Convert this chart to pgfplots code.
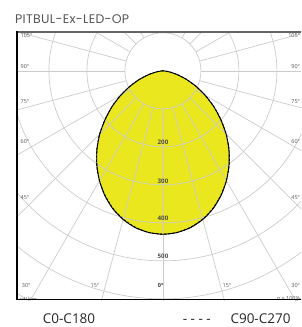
\documentclass[border=0pt]{standalone}
\usepackage{pgfplots}
\pgfplotsset{compat=1.18}
\usepackage{pgfplotstable}
\usepackage{fontspec}
\setmainfont{Open Sans}
\newfontfamily\titlefont[LetterSpace=2.5]{Poppins}
\definecolor{ldcyellow}{RGB}{234,231,30}
\definecolor{gridc}{RGB}{204,204,204}
\definecolor{lbl}{RGB}{85,85,85}
\definecolor{toplinec}{RGB}{100,100,100}

% gamma angle (deg, 0 = straight down) and intensity in cd/klm
\pgfplotstableread{
a    c0   c90
-90  0    0
-85  6    6
-80  20   20
-75  40   41
-70  66   66
-65  95   96
-60  128  128
-55  163  163
-50  198  199
-45  235  236
-40  270  271
-35  303  304
-30  334  334
-25  362  361
-20  386  385
-15  405  404
-10  419  418
-5   427  427
0    430  430
5    427  427
10   419  418
15   405  404
20   386  385
25   362  361
30   334  334
35   303  304
40   270  271
45   235  236
50   198  199
55   163  163
60   128  128
65   95   96
70   66   66
75   40   41
80   20   20
85   6    6
90   0    0
}\ldc

\begin{document}
\begin{tikzpicture}
\path[use as bounding box, clip] (0pt,0pt) rectangle (301pt,327pt);
\begin{axis}[
  at={(17pt,27pt)}, anchor=south west,
  x=0.38pt, y=0.38pt,
  xmin=-384, xmax=384, ymin=-603, ymax=103,
  hide axis, clip=true,
]
\addplot[fill=ldcyellow, draw=none, smooth, tension=0.4]
  table[x expr={\thisrow{c0}*sin(\thisrow{a})}, y expr={-\thisrow{c0}*cos(\thisrow{a})}] {\ldc} -- cycle;
\pgfplotsinvokeforeach{100,200,...,900}{
  \draw[gridc, line width=0.7pt] (axis cs:0,0) circle[radius=#1];
}
\pgfplotsinvokeforeach{0,15,...,345}{
  \draw[gridc, line width=0.7pt] (axis cs:{100*cos(#1)},{100*sin(#1)}) -- (axis cs:{1300*cos(#1)},{1300*sin(#1)});
}
\addplot[black, line width=0.9pt, smooth, tension=0.4]
  table[x expr={\thisrow{c0}*sin(\thisrow{a})}, y expr={-\thisrow{c0}*cos(\thisrow{a})}] {\ldc};
\addplot[black, line width=0.9pt, dash pattern=on 2.5pt off 1.5pt, smooth, tension=0.4]
  table[x expr={\thisrow{c90}*sin(\thisrow{a})}, y expr={-\thisrow{c90}*cos(\thisrow{a})}] {\ldc};
\end{axis}

% title
\node[anchor=base west, inner sep=0, font=\titlefont\fontsize{12.5}{14}\selectfont, text=lbl] at (15pt,303.7pt) {PITBUL-Ex-LED-OP};

% angle labels
\begin{scope}[every node/.style={inner sep=0, text=lbl, font=\fontsize{5.5}{6}\selectfont}]
\node[anchor=west] at (20.5pt,291.3pt) {105°};
\node[anchor=west] at (20.5pt,260.5pt) {90°};
\node[anchor=west] at (20.5pt,225pt) {75°};
\node[anchor=west] at (20.5pt,185.3pt) {60°};
\node[anchor=west] at (20.5pt,129.5pt) {45°};
\node[anchor=west] at (21.7pt,41pt) {30°};
\node[anchor=east] at (300.3pt,291.3pt) {105°};
\node[anchor=east] at (300.3pt,260.5pt) {90°};
\node[anchor=east] at (300.3pt,225pt) {75°};
\node[anchor=east] at (300.3pt,185.3pt) {60°};
\node[anchor=east] at (300.3pt,129.5pt) {45°};
\node[anchor=east] at (300.3pt,41pt) {30°};
\node at (95pt,41pt) {15°};
\node at (227pt,41pt) {15°};
\node[font=\bfseries\fontsize{5.5}{6}\selectfont, text=black!80] at (160.7pt,41pt) {0°};
\end{scope}

% radius labels
\begin{scope}[every node/.style={inner sep=0, text=black!70, font=\bfseries\fontsize{6.2}{7}\selectfont}]
\node at (163pt,184.5pt) {200};
\node at (163pt,146pt) {300};
\node at (163pt,108.3pt) {400};
\node at (163pt,70.3pt) {500};
\end{scope}

% labels cut by the bottom border
\begin{scope}
\clip (0pt,27.3pt) rectangle (301pt,327pt);
\node[anchor=north west, inner sep=0, text=lbl, font=\fontsize{5.5}{6}\selectfont] at (19.3pt,30pt) {cd/klm};
\node[anchor=north east, inner sep=0, text=lbl, font=\fontsize{5.5}{6}\selectfont] at (300.3pt,31pt) {η = 100\%};
\end{scope}

% frame
\draw[toplinec, line width=1.8pt] (16.3pt,295.3pt) -- (312pt,295.3pt);
\draw[black, line width=1.4pt] (17pt,27pt) -- (17pt,296pt);
\draw[black, line width=1pt] (16.3pt,27pt) -- (312pt,27pt);

% legend
\begin{scope}[every node/.style={inner sep=0, font=\fontsize{13.5}{15}\selectfont, text=black!85}]
\node[anchor=base west] at (42.7pt,3.6pt) {C0-C180};
\node[anchor=base west] at (182.7pt,3.6pt) {- - - -};
\node[anchor=base east] at (290.7pt,3.6pt) {C90-C270};
\end{scope}
\end{tikzpicture}
\end{document}
